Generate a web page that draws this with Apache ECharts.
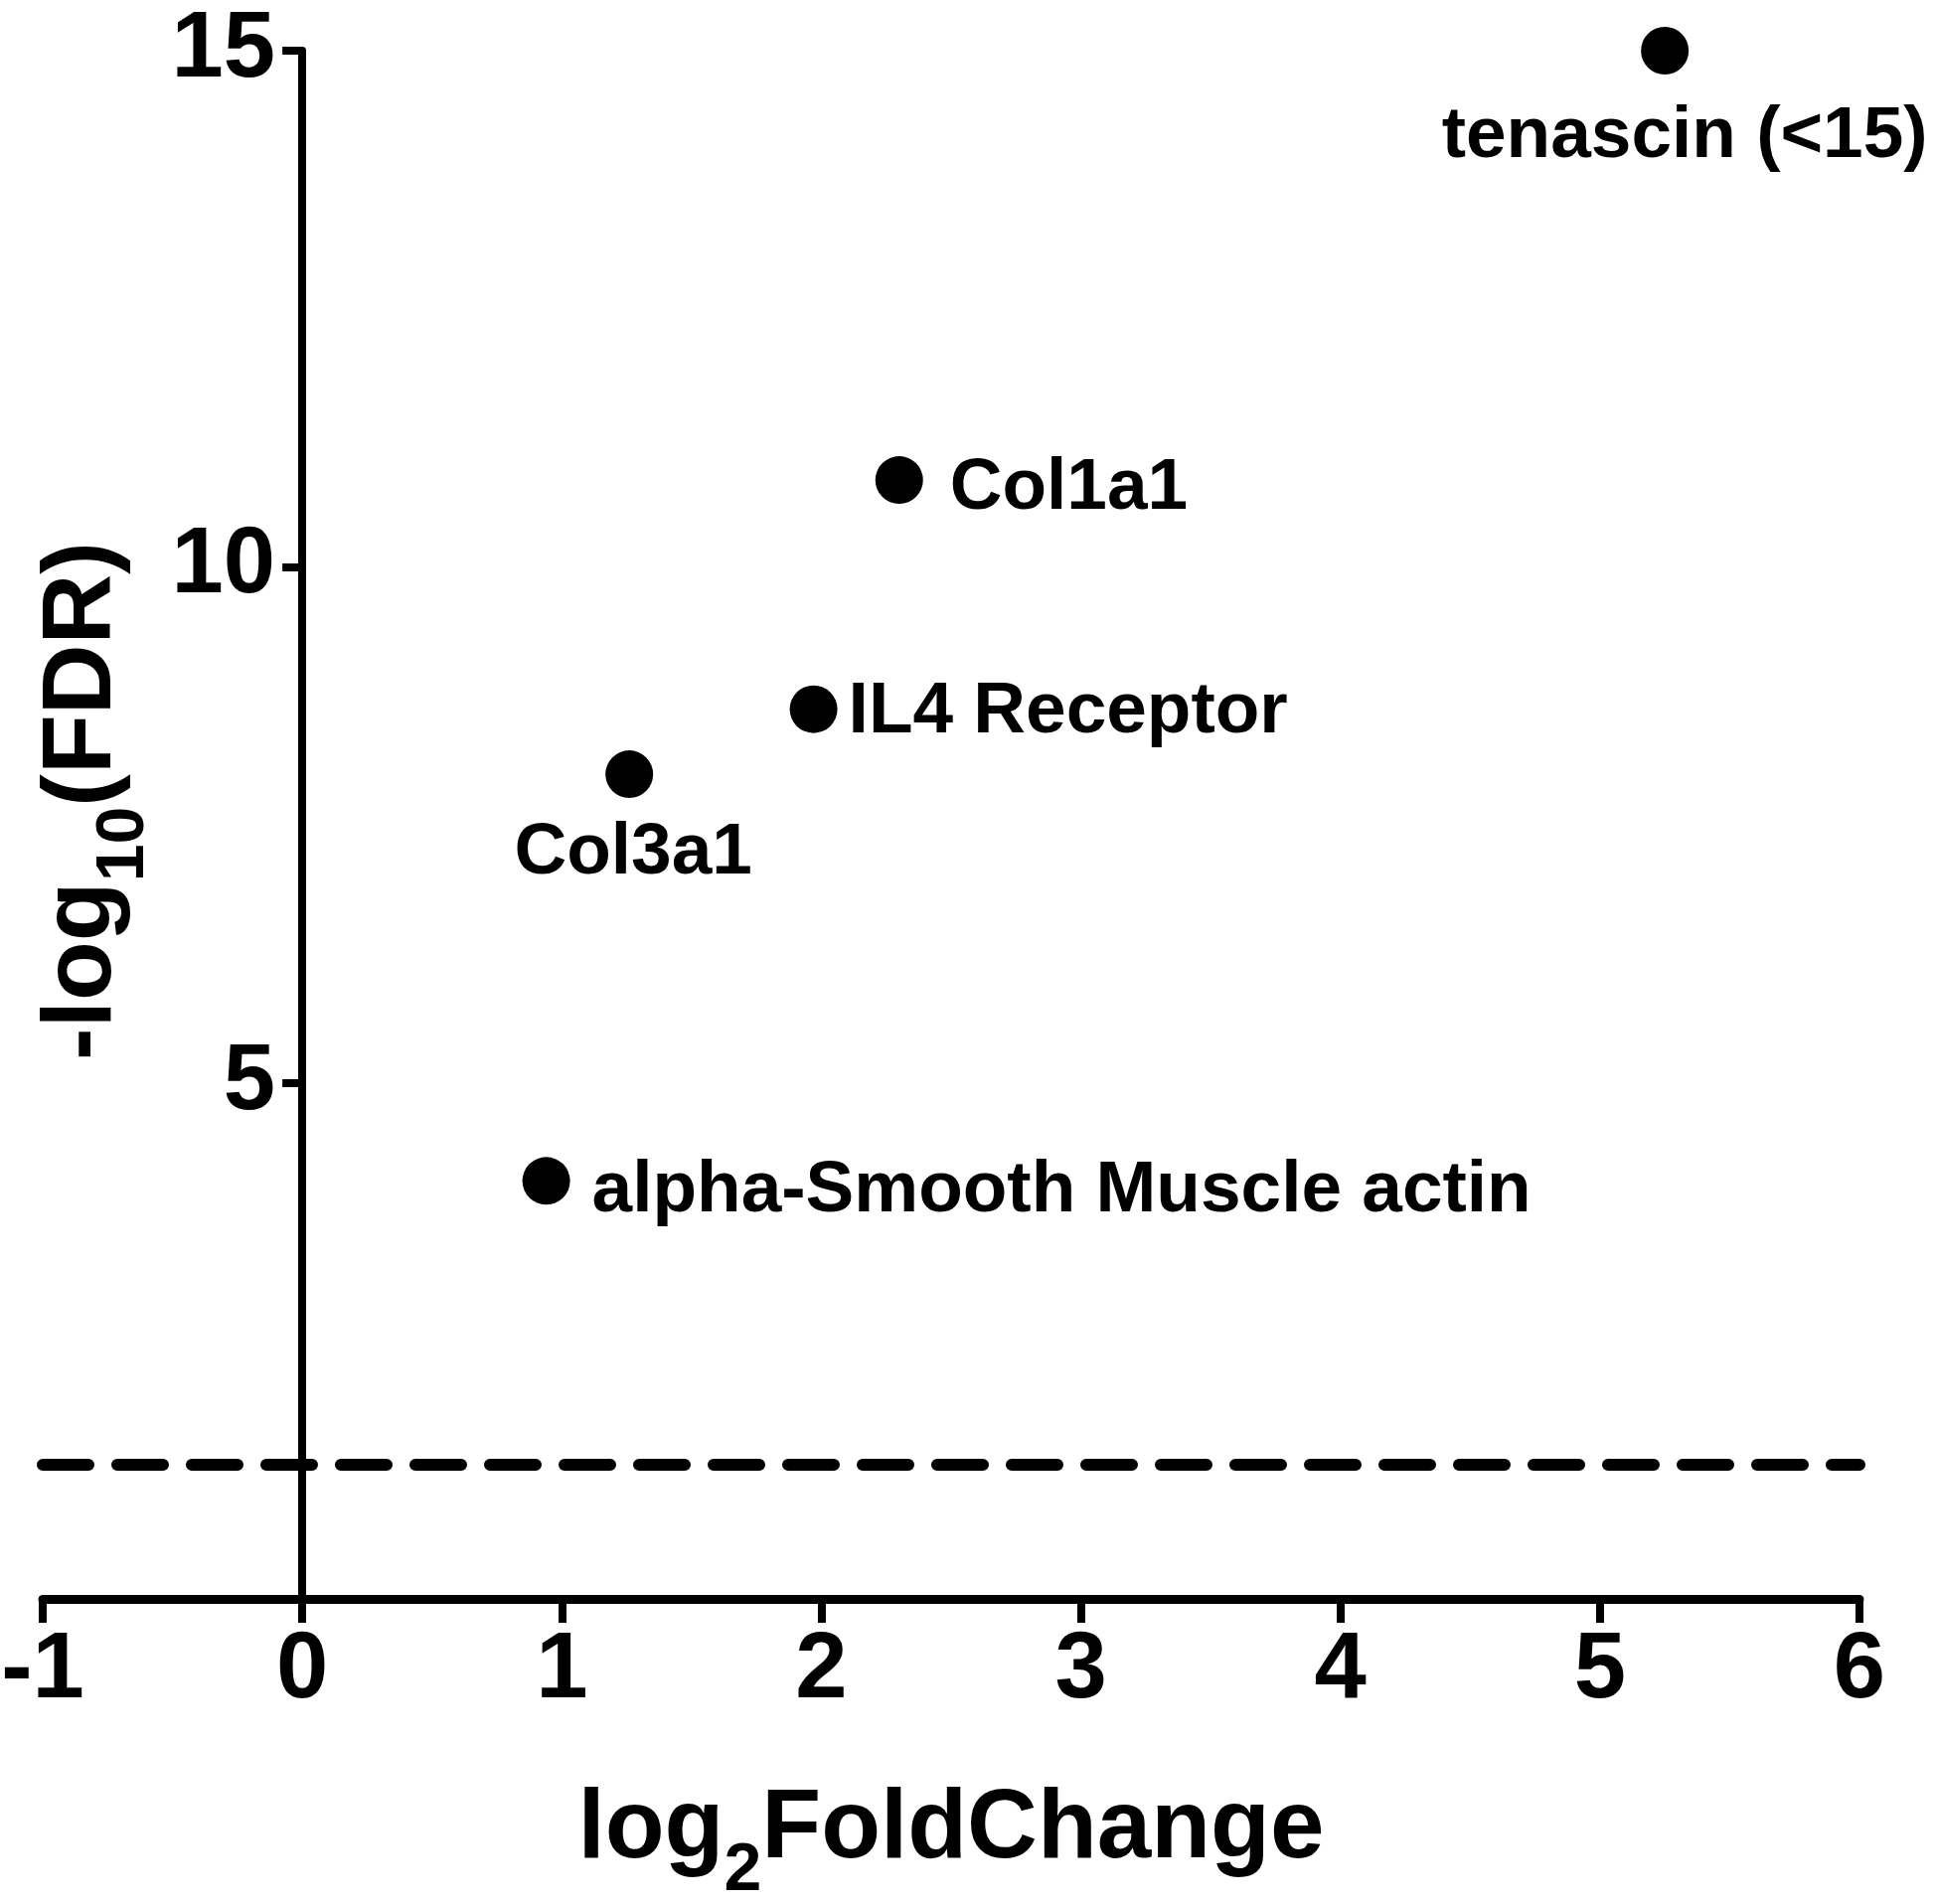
<!DOCTYPE html>
<html>
<head>
<meta charset="utf-8">
<script src="https://cdn.jsdelivr.net/npm/echarts@6/dist/echarts.min.js"></script>
<style>
html,body{margin:0;padding:0;background:#fff;}
#chart{width:1948px;height:1916px;}
</style>
</head>
<body>
<div id="chart"></div>
<script>
// ---- data ----
var genes = ['tenascin (<15)', 'Col1a1', 'IL4 Receptor', 'Col3a1', 'alpha-Smooth Muscle actin'];
var log2FoldChange = [5.25, 2.30, 1.97, 1.26, 0.94];
var negLog10FDR = [15.0, 10.84, 8.62, 7.99, 4.05];
var fdrThreshold = 1.3;
var xTicks = [-1, 0, 1, 2, 3, 4, 5, 6];
var yTicks = [0, 5, 10, 15];

// ---- label placement (style only): offset from the dot centre ----
var labelLayout = [
  {align: 'center', dx: 20, dy: 87},
  {align: 'left', dx: 51, dy: 9},
  {align: 'left', dx: 35, dy: 3},
  {align: 'center', dx: 4, dy: 80},
  {align: 'left', dx: 46, dy: 11}
];

var FONT = '"Liberation Sans", Arial, Helvetica, sans-serif';
var SYM = 48;
var GRID_LEFT = 43;

var points = genes.map(function (g, i) {
  var L = labelLayout[i];
  return {
    name: g,
    value: [log2FoldChange[i], negLog10FDR[i]],
    label: {
      show: true,
      position: [SYM / 2 + L.dx, SYM / 2 + L.dy],
      formatter: g,
      align: L.align,
      verticalAlign: 'middle'
    }
  };
});

var richTitle = {
  m: {fontFamily: FONT, fontWeight: 'bold', fontSize: 98, color: '#000', verticalAlign: 'bottom', padding: [0, 0, 26, 0]},
  s: {fontFamily: FONT, fontWeight: 'bold', fontSize: 68, color: '#000', verticalAlign: 'bottom'}
};

var chart = echarts.init(document.getElementById('chart'), null, {renderer: 'canvas'});
chart.setOption({
  animation: false,
  backgroundColor: '#ffffff',
  grid: {left: GRID_LEFT, right: 77, top: 51, bottom: 307, containLabel: false, outerBoundsMode: 'none'},
  xAxis: {
    type: 'value',
    min: xTicks[0],
    max: xTicks[xTicks.length - 1],
    interval: 1,
    splitLine: {show: false},
    axisLine: {show: true, onZero: false, lineStyle: {color: '#000', width: 9}},
    axisTick: {show: true, inside: false, length: 24, lineStyle: {color: '#000', width: 8}},
    axisLabel: {
      color: '#000', fontFamily: FONT, fontWeight: 'bold', fontSize: 94, margin: 26,
      formatter: function (v) { return String(v); }
    },
    name: '{m|log}{s|2}{m|FoldChange}',
    nameLocation: 'middle',
    nameGap: 184,
    nameMoveOverlap: false,
    nameTextStyle: {rich: richTitle}
  },
  yAxis: {
    type: 'value',
    min: yTicks[0],
    max: yTicks[yTicks.length - 1],
    interval: 5,
    offset: 0,
    splitLine: {show: false},
    axisLine: {show: true, onZero: false, lineStyle: {color: '#000', width: 8}},
    axisTick: {show: true, inside: false, length: 20, lineStyle: {color: '#000', width: 8}},
    axisLabel: {
      color: '#000', fontFamily: FONT, fontWeight: 'bold', fontSize: 94, margin: 27,
      formatter: function (v) { return v === 0 ? '' : String(v); }
    },
    name: '{m|-log}{s|10}{m|(FDR)}',
    nameLocation: 'middle',
    nameGap: 145,
    nameRotate: 90,
    nameMoveOverlap: false,
    nameTextStyle: {padding: [0, 0, 0, 48], rich: richTitle}
  },
  series: [
    {
      type: 'line',
      data: [[xTicks[0], fdrThreshold], [xTicks[xTicks.length - 1], fdrThreshold]],
      symbol: 'none',
      silent: true,
      z: 1,
      lineStyle: {color: '#000', width: 12, type: [46, 29], cap: 'round', opacity: 1}
    },
    {
      type: 'scatter',
      data: points,
      symbol: 'circle',
      symbolSize: SYM,
      clip: false,
      silent: true,
      z: 3,
      itemStyle: {color: '#000', opacity: 1},
      label: {
        color: '#000', opacity: 1, fontFamily: FONT, fontWeight: 'bold', fontSize: 73
      },
      emphasis: {disabled: true}
    }
  ]
});

var px0 = chart.convertToPixel({xAxisIndex: 0}, 0);
chart.setOption({yAxis: {offset: -(px0 - GRID_LEFT)}});
</script>
</body>
</html>
